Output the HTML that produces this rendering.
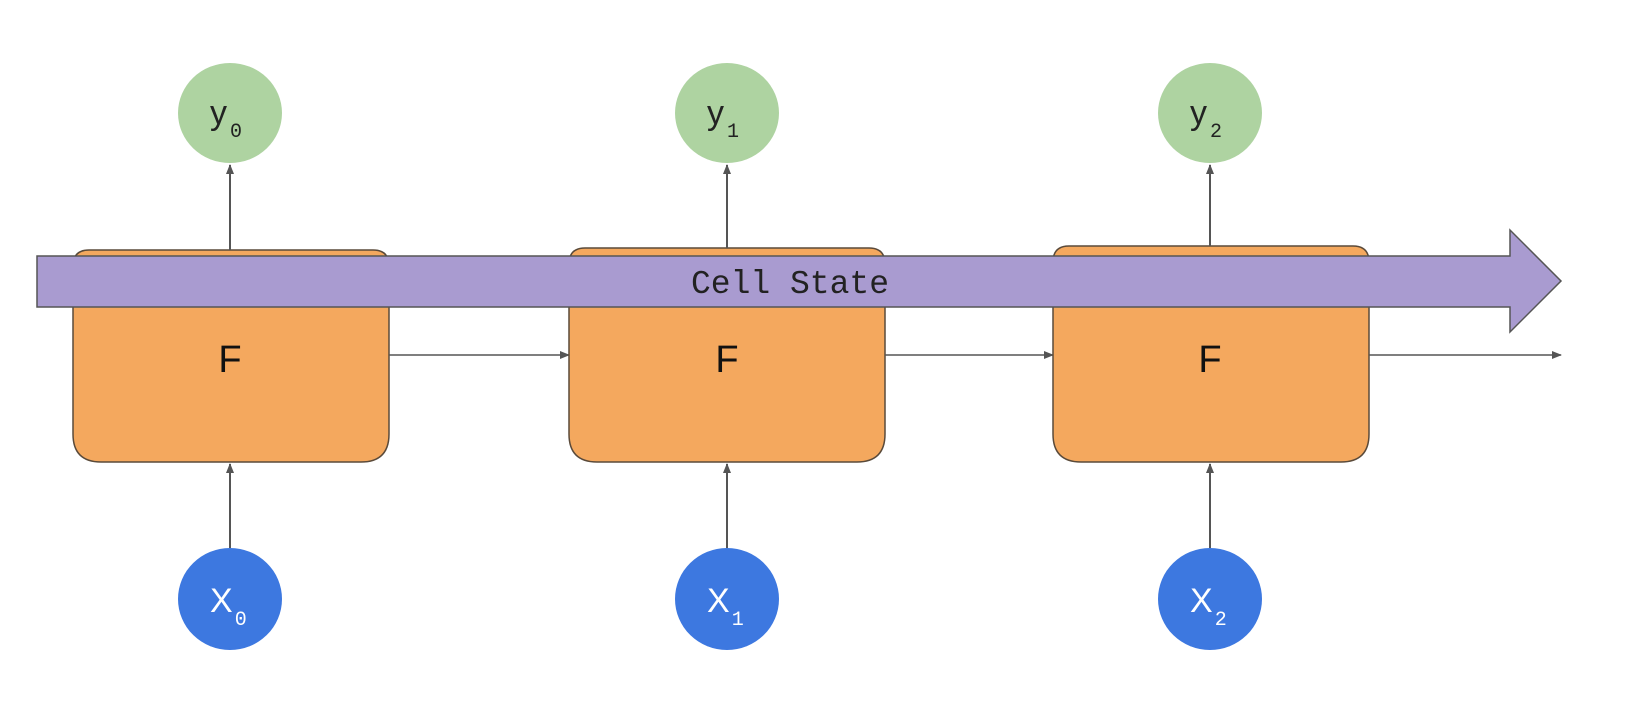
<!DOCTYPE html>
<html><head><meta charset="utf-8"><style>
html,body{margin:0;padding:0;background:#fff;}
svg{display:block;}
</style></head><body>
<svg width="1625" height="713" viewBox="0 0 1625 713">
<defs>
<marker id="ah" markerWidth="10" markerHeight="8" refX="9" refY="4" orient="auto" markerUnits="userSpaceOnUse">
<path d="M0,0 L10,4 L0,8 Z" fill="#555"/>
</marker>
</defs>
<g id="cells"></g>
<g>
<path d="M37,256 L1510,256 L1510,230 L1561,281 L1510,332 L1510,307 L37,307 Z" fill="#a99bd0" stroke="#555" stroke-width="1.5"/>
<text x="790" y="293" text-anchor="middle" font-family="Liberation Mono, monospace" font-size="33" fill="#222">Cell State</text>
</g>
<g id="fronts"></g>
</svg>
<script>
const steps=[0,1,2];
const centers=[230,727,1210];
const boxL=[73,569,1053];
const boxTop=[250,248,246];
const ns='http://www.w3.org/2000/svg';
const back=document.getElementById('cells');
const front=document.getElementById('fronts');
function mk(tag,attrs,parent){const e=document.createElementNS(ns,tag);for(const k in attrs)e.setAttribute(k,attrs[k]);parent.appendChild(e);return e;}
steps.forEach((s,i)=>{
  const cx=centers[i],L=boxL[i],T=boxTop[i],R=L+316,B=462;
  const box=mk('path',{d:`M${L},${T+16} Q${L},${T} ${L+16},${T} L${R-16},${T} Q${R},${T} ${R},${T+16} L${R},${B-28} Q${R},${B} ${R-28},${B} L${L+28},${B} Q${L},${B} ${L},${B-28} Z`,fill:'#f4a85e',stroke:'#5a4a3a','stroke-width':1.5},back);
  
  
  const up=mk('line',{x1:cx,y1:T,x2:cx,y2:165,stroke:'#555','stroke-width':2,'marker-end':'url(#ah)'},back);
  
  
  const inp=mk('line',{x1:cx,y1:548,x2:cx,y2:464,stroke:'#555','stroke-width':2,'marker-end':'url(#ah)'},back);
  
  
  const nx=i<2?boxL[i+1]:1561;
  const h=mk('line',{x1:R,y1:355,x2:nx,y2:355,stroke:'#555','stroke-width':1.5,'marker-end':'url(#ah)'},back);
  
  
  const f=mk('text',{x:cx,y:372,'text-anchor':'middle','font-family':'Liberation Sans, sans-serif','font-size':38,fill:'#111'},front);
  f.textContent='F';
  
  
  const yc=mk('ellipse',{cx:cx,cy:113,rx:52,ry:50,fill:'#aed3a1'},back);
  
  
  const yt=mk('text',{x:cx-20,y:124,'font-family':'Liberation Sans, sans-serif','font-size':34,fill:'#222'},back);
  yt.innerHTML='y<tspan font-family="Liberation Mono, monospace" font-size="20" dx="3" dy="13">'+s+'</tspan>';
  
  
  const xc=mk('ellipse',{cx:cx,cy:599,rx:52,ry:51,fill:'#3d78e0'},back);
  
  
  const xt=mk('text',{x:cx-20,y:612,'font-family':'Liberation Sans, sans-serif','font-size':34,fill:'#fff'},back);
  xt.innerHTML='X<tspan font-family="Liberation Mono, monospace" font-size="20" dx="2" dy="13">'+s+'</tspan>';
  
  
});
</script>
</body></html>
